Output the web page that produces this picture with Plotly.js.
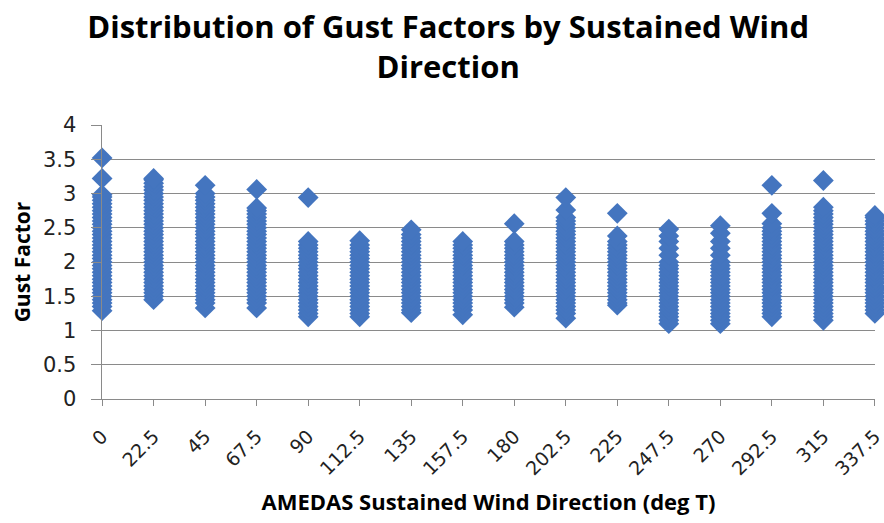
<!DOCTYPE html>
<html>
<head>
<meta charset="utf-8">
<script src="https://cdn.plot.ly/plotly-3.0.1.min.js"></script>
<style>html,body{margin:0;padding:0;background:#fff;}#chart{width:884px;height:523px;}</style>
</head>
<body>
<div id="chart"></div>
<script>
// Sustained wind direction categories (deg T)
var directions = [0, 22.5, 45, 67.5, 90, 112.5, 135, 157.5, 180, 202.5, 225, 247.5, 270, 292.5, 315, 337.5];
var tickLabels = ["0","22.5","45","67.5","90","112.5","135","157.5","180","202.5","225","247.5","270","292.5","315","337.5"];

// Gust factor observations read per direction
var gf000 = [1.29,1.35,1.4,1.45,1.5,1.55,1.6,1.65,1.7,1.75,1.8,1.85,1.9,1.95,2.0,2.05,2.1,2.15,2.2,2.25,2.3,2.35,2.4,2.45,2.5,2.55,2.6,2.65,2.7,2.75,2.8,2.85,2.9,2.95,2.98,3.22,3.52];
var gf022 = [1.45,1.5,1.55,1.6,1.65,1.7,1.75,1.8,1.85,1.9,1.95,2.0,2.05,2.1,2.15,2.2,2.25,2.3,2.35,2.4,2.45,2.5,2.55,2.6,2.65,2.7,2.75,2.8,2.85,2.9,2.95,3.0,3.05,3.1,3.15,3.2,3.22];
var gf045 = [1.33,1.4,1.45,1.5,1.55,1.6,1.65,1.7,1.75,1.8,1.85,1.9,1.95,2.0,2.05,2.1,2.15,2.2,2.25,2.3,2.35,2.4,2.45,2.5,2.55,2.6,2.65,2.7,2.75,2.8,2.85,2.9,2.95,3.0,3.12];
var gf067 = [1.33,1.4,1.45,1.5,1.55,1.6,1.65,1.7,1.75,1.8,1.85,1.9,1.95,2.0,2.05,2.1,2.15,2.2,2.25,2.3,2.35,2.4,2.45,2.5,2.55,2.6,2.65,2.7,2.75,2.79,3.06];
var gf090 = [1.2,1.25,1.3,1.35,1.4,1.45,1.5,1.55,1.6,1.65,1.7,1.75,1.8,1.85,1.9,1.95,2.0,2.05,2.1,2.15,2.2,2.25,2.3,2.94];
var gf112 = [1.2,1.25,1.3,1.35,1.4,1.45,1.5,1.55,1.6,1.65,1.7,1.75,1.8,1.85,1.9,1.95,2.0,2.05,2.1,2.15,2.2,2.25,2.31];
var gf135 = [1.26,1.3,1.35,1.4,1.45,1.5,1.55,1.6,1.65,1.7,1.75,1.8,1.85,1.9,1.95,2.0,2.05,2.1,2.15,2.2,2.25,2.3,2.35,2.4,2.47];
var gf157 = [1.23,1.3,1.35,1.4,1.45,1.5,1.55,1.6,1.65,1.7,1.75,1.8,1.85,1.9,1.95,2.0,2.05,2.1,2.15,2.2,2.25,2.3];
var gf180 = [1.34,1.4,1.45,1.5,1.55,1.6,1.65,1.7,1.75,1.8,1.85,1.9,1.95,2.0,2.05,2.1,2.15,2.2,2.25,2.3,2.56];
var gf202 = [1.18,1.25,1.3,1.35,1.4,1.45,1.5,1.55,1.6,1.65,1.7,1.75,1.8,1.85,1.9,1.95,2.0,2.05,2.1,2.15,2.2,2.25,2.3,2.35,2.4,2.45,2.5,2.55,2.6,2.65,2.76,2.94];
var gf225 = [1.37,1.4,1.45,1.5,1.55,1.6,1.65,1.7,1.75,1.8,1.85,1.9,1.95,2.0,2.05,2.1,2.15,2.2,2.25,2.3,2.38,2.71];
var gf247 = [1.1,1.15,1.2,1.25,1.3,1.35,1.4,1.45,1.5,1.55,1.6,1.65,1.7,1.75,1.8,1.85,1.9,1.95,2.0,2.1,2.2,2.3,2.38,2.48];
var gf270 = [1.1,1.15,1.2,1.25,1.3,1.35,1.4,1.45,1.5,1.55,1.6,1.65,1.7,1.75,1.8,1.85,1.9,1.95,2.0,2.1,2.2,2.3,2.42,2.53];
var gf292 = [1.2,1.25,1.3,1.35,1.4,1.45,1.5,1.55,1.6,1.65,1.7,1.75,1.8,1.85,1.9,1.95,2.0,2.05,2.1,2.15,2.2,2.25,2.3,2.35,2.4,2.45,2.5,2.56,2.71,3.12];
var gf315 = [1.15,1.2,1.25,1.3,1.35,1.4,1.45,1.5,1.55,1.6,1.65,1.7,1.75,1.8,1.85,1.9,1.95,2.0,2.05,2.1,2.15,2.2,2.25,2.3,2.35,2.4,2.45,2.5,2.55,2.6,2.65,2.7,2.75,2.8,3.19];
var gf337 = [1.25,1.3,1.35,1.4,1.45,1.5,1.55,1.6,1.65,1.7,1.75,1.8,1.85,1.9,1.95,2.0,2.05,2.1,2.15,2.2,2.25,2.3,2.35,2.4,2.45,2.5,2.55,2.6,2.65,2.68];

var seriesByDirection = [gf000,gf022,gf045,gf067,gf090,gf112,gf135,gf157,gf180,gf202,gf225,gf247,gf270,gf292,gf315,gf337];

var xs = [], ys = [];
for (var i = 0; i < directions.length; i++) {
  var vals = seriesByDirection[i];
  for (var j = 0; j < vals.length; j++) { xs.push(directions[i]); ys.push(vals[j]); }
}

var tickFont = "'DejaVu Sans', 'Open Sans', sans-serif";
var titleFont = "'Open Sans', 'DejaVu Sans', sans-serif";
var blue = '#4475BF';
var grid = '#8a8a8a';

var data = [{
  type: 'scatter', mode: 'markers', x: xs, y: ys, cliponaxis: false,
  marker: {symbol: 'diamond', size: 16, color: blue, line: {width: 0}},
  hoverinfo: 'x+y', showlegend: false
}];

var layout = {
  width: 884, height: 523,
  paper_bgcolor: '#ffffff', plot_bgcolor: '#ffffff',
  margin: {l: 102, r: 9, t: 125, b: 124},
  title: {
    text: 'Distribution of Gust Factors by Sustained Wind<br>Direction',
    font: {family: titleFont, size: 31, color: '#000000', weight: 'bold'},
    x: 0.507, xanchor: 'center', xref: 'container', yref: 'container', y: 0.927, yanchor: 'middle'
  },
  xaxis: {
    range: [-0.05, 337.55], tickmode: 'array', tickvals: directions, ticktext: tickLabels,
    tickangle: -45, ticks: 'outside', ticklen: 6, tickcolor: grid, tickwidth: 1,
    ticklabeloverflow: 'allow', ticklabelstandoff: 12,
    showline: true, linecolor: grid, linewidth: 1, showgrid: false, zeroline: false,
    tickfont: {family: tickFont, size: 19, color: '#222222'},
    title: {text: 'AMEDAS Sustained Wind Direction (deg T)', font: {family: titleFont, size: 22, color: '#000000', weight: 'bold'}, standoff: 16}
  },
  yaxis: {
    range: [0, 4], dtick: 0.5, tick0: 0, ticks: 'outside', ticklen: 10, tickcolor: grid,
    ticksuffix: '\u2002',
    showline: true, linecolor: grid, linewidth: 1, showgrid: true, gridcolor: grid, gridwidth: 1,
    zeroline: false, tickfont: {family: tickFont, size: 21, color: '#222222'},
    title: {text: 'Gust Factor', font: {family: titleFont, size: 21, color: '#000000', weight: 'bold'}, standoff: 6}
  }
};

Plotly.newPlot('chart', data, layout, {displayModeBar: false, staticPlot: true});
</script>
</body>
</html>
